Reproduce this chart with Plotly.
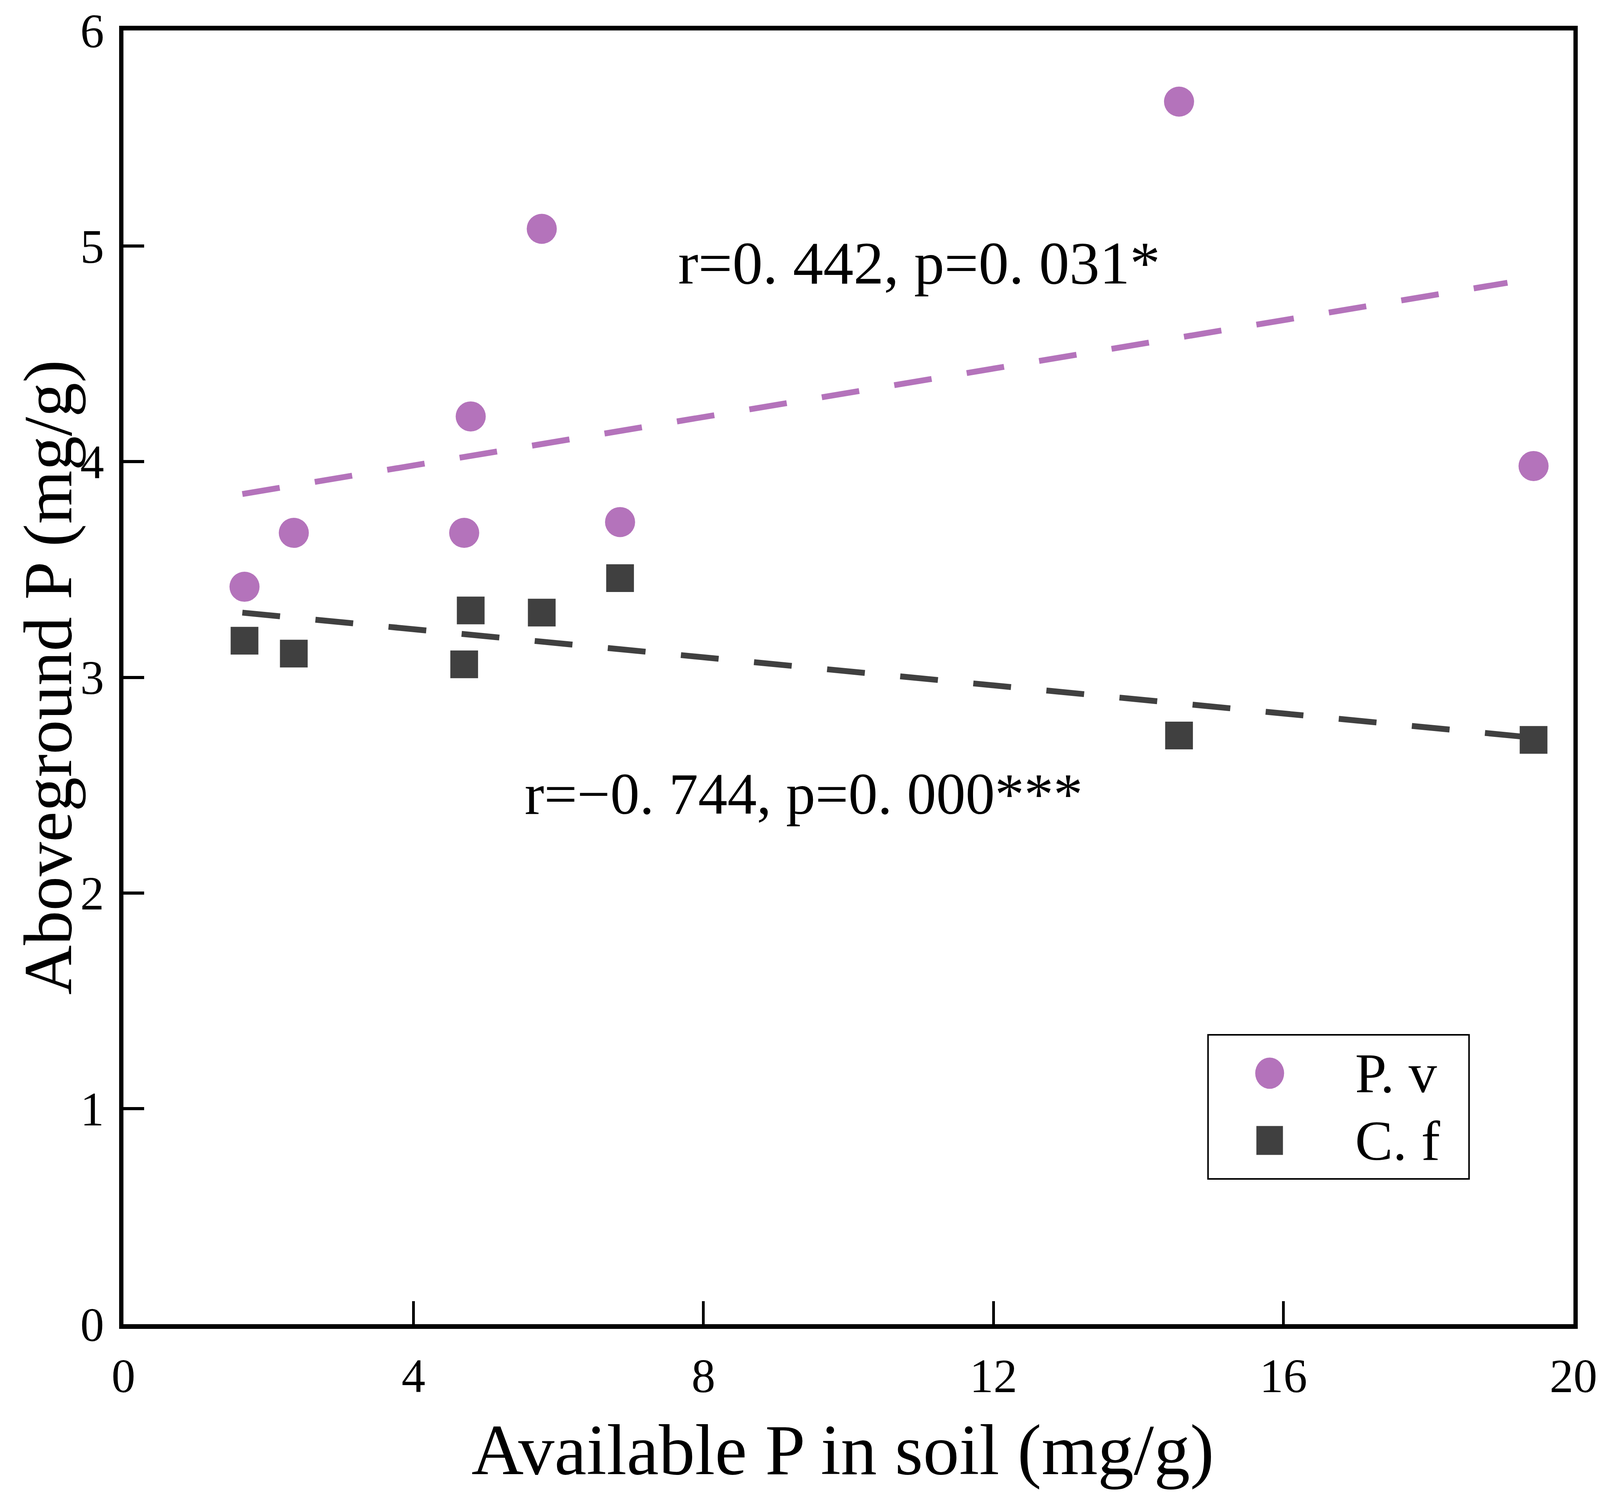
import plotly.graph_objects as go

# P. v (circles) and C. f (squares): available P in soil vs aboveground P
pv_x = [1.67, 2.35, 4.70, 4.79, 5.77, 6.85, 14.56, 19.45]
pv_y = [3.42, 3.67, 3.67, 4.21, 5.08, 3.72, 5.67, 3.98]

cf_x = [1.67, 2.35, 4.70, 4.79, 5.77, 6.85, 14.56, 19.45]
cf_y = [3.17, 3.11, 3.06, 3.31, 3.30, 3.46, 2.73, 2.71]

# fitted trend line end points
pv_fit_x = [1.64, 19.09]
pv_fit_y = [3.85, 4.83]
cf_fit_x = [1.64, 19.45]
cf_fit_y = [3.30, 2.72]

x_ticks = [0, 4, 8, 12, 16, 20]
y_ticks = [0, 1, 2, 3, 4, 5, 6]

PURPLE = "#B473BB"
DARK = "#404040"
FONT = "Liberation Serif"

# the browser viewport is capped at 4096 px wide, so fill that
W, H = 4096, 3831
M_L, M_R, M_T, M_B = 308, 76, 70, 448

fig = go.Figure()

fig.add_trace(go.Scatter(
    x=pv_fit_x, y=pv_fit_y, mode="lines",
    line=dict(color=PURPLE, width=15, dash="97px,91px"),
    hoverinfo="skip", showlegend=False,
))
fig.add_trace(go.Scatter(
    x=cf_fit_x, y=cf_fit_y, mode="lines",
    line=dict(color=DARK, width=15, dash="97px,91px"),
    hoverinfo="skip", showlegend=False,
))
fig.add_trace(go.Scatter(
    x=pv_x, y=pv_y, mode="markers", name="P. v",
    marker=dict(symbol="circle", size=77, color=PURPLE, line=dict(width=0)),
    showlegend=False,
))
fig.add_trace(go.Scatter(
    x=cf_x, y=cf_y, mode="markers", name="C. f",
    marker=dict(symbol="square", size=71, color=DARK, line=dict(width=0)),
    showlegend=False,
))

# correlation notes
fig.add_annotation(
    x=7.64, y=4.92, xref="x", yref="y", text="r=0. 442, p=0. 031*",
    showarrow=False, xanchor="left", yanchor="middle",
    font=dict(family=FONT, size=155, color="black"),
)
fig.add_annotation(
    x=5.52, y=2.46, xref="x", yref="y", text="r=−0. 744, p=0. 000***",
    showarrow=False, xanchor="left", yanchor="middle",
    font=dict(family=FONT, size=150, color="black"),
)

# hand-built legend so the symbols stay as large as in the original
fig.add_shape(
    type="rect", xref="paper", yref="paper",
    x0=0.748, x1=0.928, y0=0.1123, y1=0.2237,
    line=dict(color="black", width=4), fillcolor="white",
)
fig.add_shape(
    type="circle", xref="paper", yref="paper",
    xsizemode="pixel", ysizemode="pixel", xanchor=0.7905, yanchor=0.194,
    x0=-37, x1=37, y0=-40, y1=40,
    line=dict(width=0), fillcolor=PURPLE,
)
fig.add_shape(
    type="rect", xref="paper", yref="paper",
    xsizemode="pixel", ysizemode="pixel", xanchor=0.7905, yanchor=0.142,
    x0=-34, x1=34, y0=-37, y1=37,
    line=dict(width=0), fillcolor=DARK,
)
for label, ypos in [("P. v", 0.194), ("C. f", 0.142)]:
    fig.add_annotation(
        x=0.849, y=ypos, xref="paper", yref="paper", text=label,
        showarrow=False, xanchor="left", yanchor="middle",
        font=dict(family=FONT, size=145, color="black"),
    )

# axis titles placed as annotations for exact positioning
fig.add_annotation(
    x=0.496, y=-0.097, xref="paper", yref="paper",
    text="Available P in soil (mg/g)", showarrow=False,
    xanchor="center", yanchor="middle",
    font=dict(family=FONT, size=185, color="black"),
)
fig.add_annotation(
    x=-0.052, y=0.5, xref="paper", yref="paper",
    text="Aboveground P (mg/g)", textangle=-90, showarrow=False,
    xanchor="center", yanchor="middle",
    font=dict(family=FONT, size=176, color="black"),
)

tick_font = dict(family=FONT, size=122, color="black")

fig.update_xaxes(
    range=[0, 20], tickvals=x_ticks, ticktext=[str(v) for v in x_ticks],
    showgrid=False, zeroline=False, automargin=False,
    showline=True, linecolor="black", linewidth=12, mirror=True,
    ticks="inside", ticklen=59, tickwidth=7, tickcolor="black",
    tickfont=tick_font, ticklabeloverflow="allow", ticklabelstandoff=16,
)
fig.update_yaxes(
    range=[0, 6], tickvals=y_ticks, ticktext=[str(v) for v in y_ticks],
    showgrid=False, zeroline=False, automargin=False,
    showline=True, linecolor="black", linewidth=11, mirror=True,
    ticks="inside", ticklen=53, tickwidth=8, tickcolor="black",
    tickfont=tick_font, ticklabeloverflow="allow", ticklabelstandoff=14,
)

fig.update_layout(
    width=W, height=H,
    margin=dict(l=M_L, r=M_R, t=M_T, b=M_B),
    plot_bgcolor="white", paper_bgcolor="white",
    showlegend=False,
)

fig.write_html("out.html")
